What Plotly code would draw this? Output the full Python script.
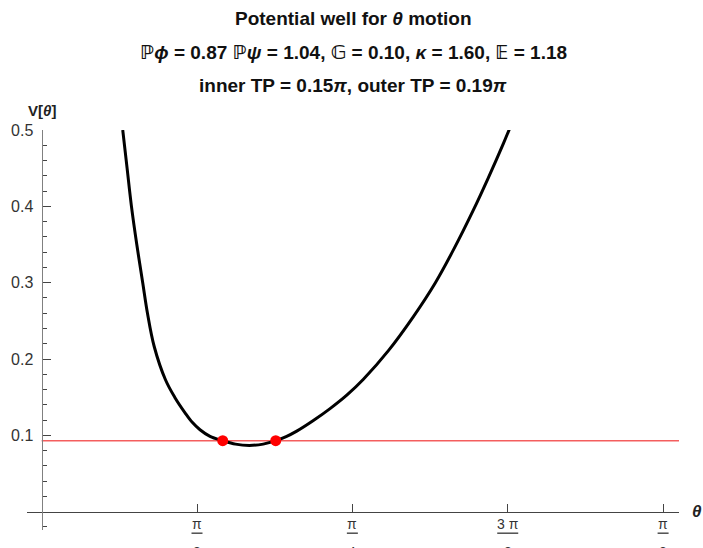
import plotly.graph_objects as go
import math

# ---- data ----
theta = [0.2050, 0.2160, 0.2270, 0.2405, 0.2555, 0.2675, 0.2845, 0.3130,
         0.3363, 0.3629, 0.3807, 0.4003, 0.4256, 0.4577, 0.4900, 0.5250, 0.5600,
         0.5917, 0.6180, 0.6448, 0.6868, 0.7290, 0.7713, 0.8133, 0.8765, 0.9397,
         0.9945, 1.0408, 1.0914, 1.1293, 1.1673, 1.1842]
V = [0.500, 0.450, 0.400, 0.350, 0.300, 0.260, 0.2164, 0.1728,
     0.1500, 0.1292, 0.1170, 0.1073, 0.0986, 0.0930, 0.0885, 0.0868, 0.0885,
     0.0930, 0.0983, 0.1055, 0.1194, 0.1350, 0.1526, 0.1735, 0.2110, 0.2556,
     0.2993, 0.3429, 0.3953, 0.4377, 0.4825, 0.5035]
energy_level = 0.093
turning_points = [0.4577, 0.5917]
x_tick_vals = [math.pi / 8, math.pi / 4, 3 * math.pi / 8, math.pi / 2]
x_tick_num = ["π", "π", "3 π", "π"]
x_tick_den = ["8", "4", "8", "2"]
y_tick_vals = [0.1, 0.2, 0.3, 0.4, 0.5]
y_tick_text = ["0.1", "0.2", "0.3", "0.4", "0.5"]

XMIN, XMAX = -0.037, 1.611
YMIN, YMAX = -0.024, 0.5
FONT = "Liberation Sans, Arial, DejaVu Sans, sans-serif"

fig = go.Figure()
fig.add_trace(go.Scatter(x=[0, XMAX], y=[energy_level, energy_level], mode="lines",
                         line=dict(color="rgba(240,40,40,0.75)", width=1.5),
                         hoverinfo="skip", showlegend=False))
fig.add_trace(go.Scatter(x=theta, y=V, mode="lines",
                         line=dict(color="black", width=3, shape="spline", smoothing=1.0),
                         showlegend=False))
fig.add_trace(go.Scatter(x=turning_points, y=[energy_level] * len(turning_points),
                         mode="markers", marker=dict(color="#ff0000", size=11),
                         showlegend=False))

minor_vals = [round(k * 0.02, 2) for k in range(-1, 26) if k % 5 != 0]

fig.update_layout(
    width=703, height=548,
    margin=dict(l=27, r=24, t=130, b=18),
    plot_bgcolor="white", paper_bgcolor="white",
    font=dict(family=FONT, color="#333"),
    xaxis=dict(range=[XMIN, XMAX], showgrid=False, zeroline=False,
               showline=True, linecolor="#444", linewidth=1.2,
               anchor="free", position=(0 - YMIN) / (YMAX - YMIN),
               tickmode="array", tickvals=x_tick_vals, ticks="inside",
               ticklen=8, tickcolor="#444", showticklabels=False),
    yaxis=dict(range=[YMIN, YMAX], showgrid=False, zeroline=False,
               showline=True, linecolor="#808080", linewidth=1.2,
               anchor="free", position=(0 - XMIN) / (XMAX - XMIN),
               tickmode="array", tickvals=y_tick_vals, ticktext=y_tick_text,
               ticks="inside", ticklen=8, tickcolor="#444",
               tickfont=dict(size=16, color="#333"), ticklabelstandoff=5,
               minor=dict(tickvals=minor_vals, ticks="inside", ticklen=4.5,
                          tickcolor="#444")),
)

# fraction tick labels on the x axis
for xv, num, den in zip(x_tick_vals, x_tick_num, x_tick_den):
    fig.add_annotation(x=xv, xref="x", y=0, yref="y", text=num, showarrow=False,
                       font=dict(size=14, color="#333"), yanchor="middle", yshift=-12)
    fig.add_annotation(x=xv, xref="x", y=0, yref="y", text=den, showarrow=False,
                       font=dict(size=14, color="#333"), yanchor="middle", yshift=-40)
    half = 10.5 if len(num) > 1 else 5.5
    px = (xv - XMIN) / (XMAX - XMIN)
    py = (0 - YMIN) / (YMAX - YMIN)
    fig.add_shape(type="line", xref="paper", xsizemode="pixel", xanchor=px,
                  x0=-half, x1=half, yref="paper", ysizemode="pixel", yanchor=py,
                  y0=-21.5, y1=-21.5, line=dict(color="#333", width=1.3))

# axis labels
fig.add_annotation(x=0, xref="x", y=1, yref="paper", text="<b>V[<i>θ</i>]</b>",
                   showarrow=False, font=dict(size=15, color="#222"),
                   yanchor="middle", yshift=20)
fig.add_annotation(x=1, xref="paper", y=0, yref="y", text="<b><i>θ</i></b>",
                   showarrow=False, font=dict(size=17, color="#222"),
                   xanchor="center", yanchor="middle", xshift=18)

# title (three lines)
title_lines = [
    "<b>Potential well for <i>θ</i> motion</b>",
    "<b>ℙ<i>ϕ</i> = 0.87 ℙ<i>ψ</i> = 1.04, 𝔾 = 0.10, <i>κ</i> = 1.60, 𝔼 = 1.18</b>",
    "<b>inner TP = 0.15<i>π</i>, outer TP = 0.19<i>π</i></b>",
]
title_px = [18, 52, 85]
for txt, py in zip(title_lines, title_px):
    fig.add_annotation(x=0.5, xref="paper", y=1, yref="paper", text=txt,
                       showarrow=False, font=dict(size=19, color="#111"),
                       xanchor="center", yanchor="middle", yshift=130 - py)

fig.write_html("out.html")
